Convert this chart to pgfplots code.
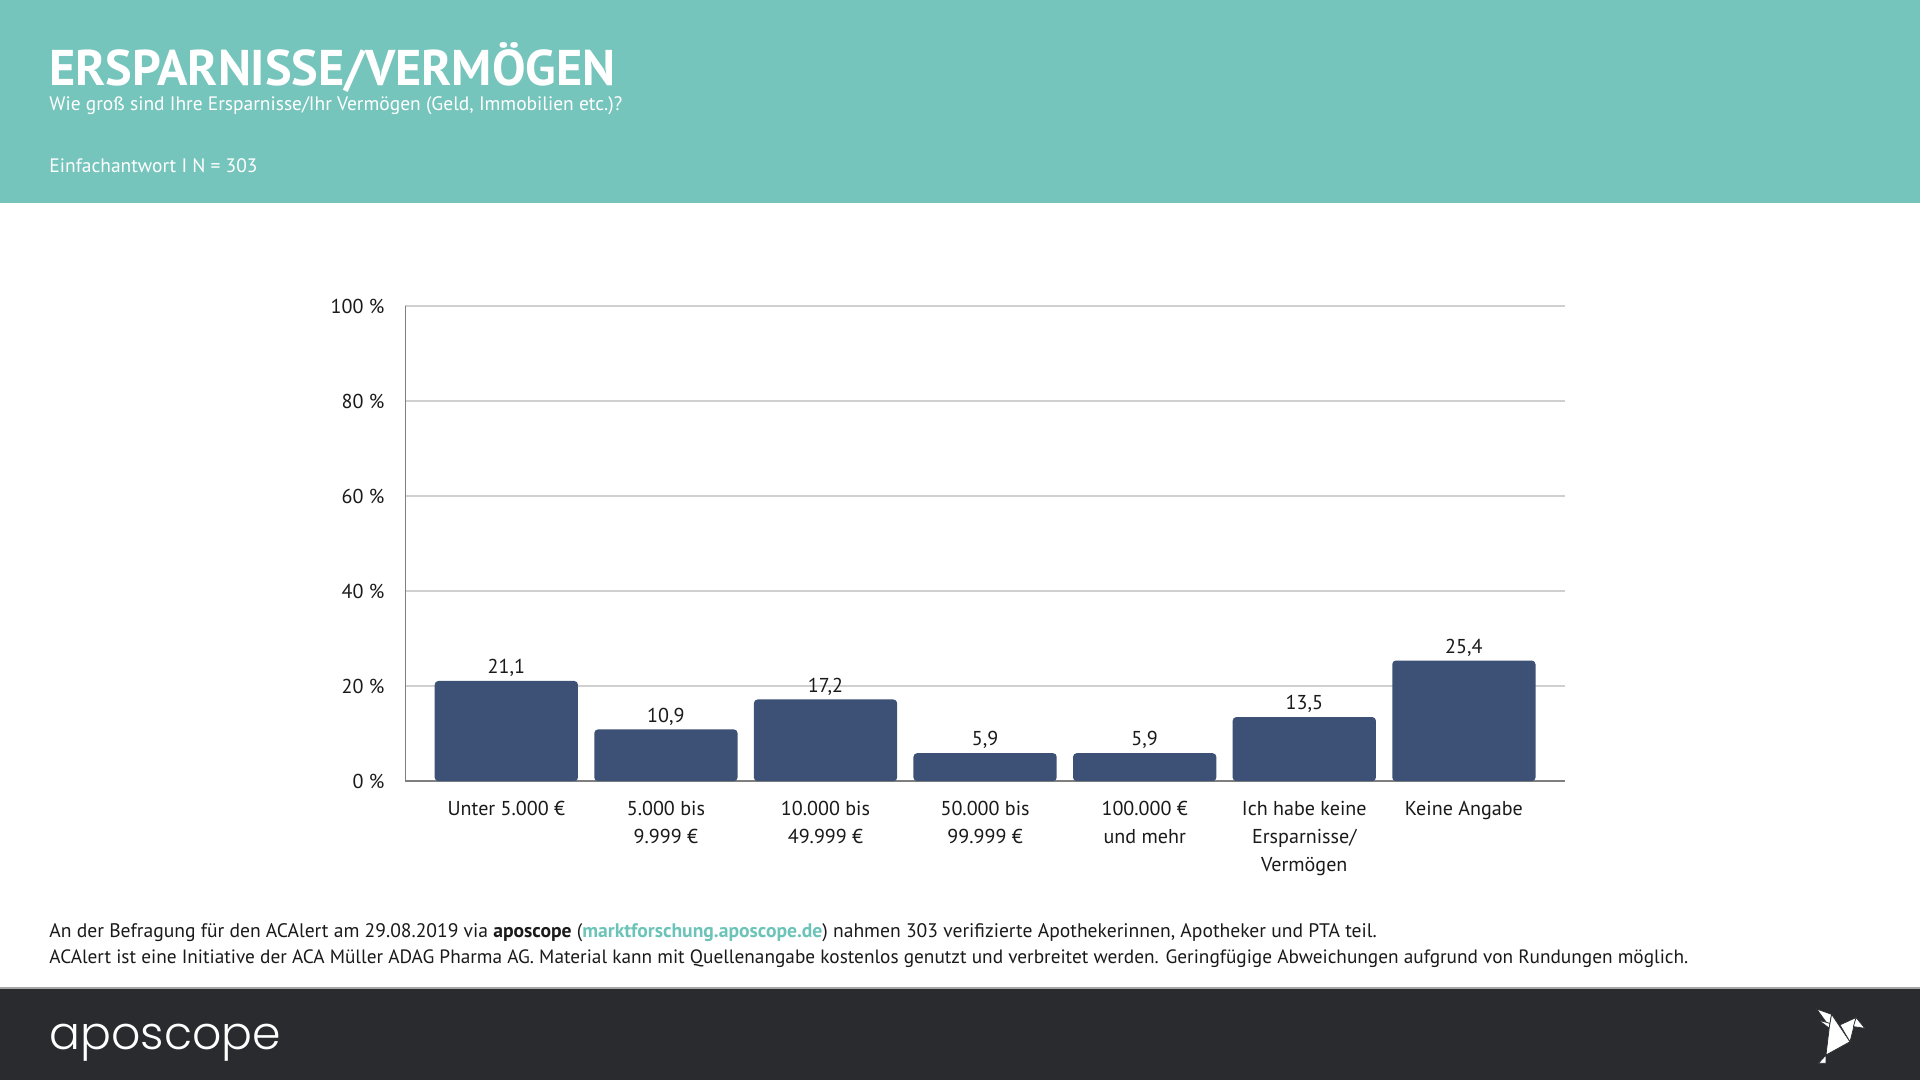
\documentclass[border=0pt]{standalone}
\usepackage{pgfplots}
\pgfplotsset{compat=1.18}
\usepackage{fontspec}
\setmainfont{PT Sans}
\newfontfamily\logofont{Poppins}[UprightFont=* Light]
\definecolor{headteal}{HTML}{76C5BC}
\definecolor{barblue}{HTML}{3D5176}
\definecolor{footdark}{HTML}{2A2B2F}
\definecolor{linkteal}{HTML}{6CC3B8}
\definecolor{gridgray}{HTML}{D0D0D0}
\definecolor{axisgray}{HTML}{7F7F7F}
\definecolor{txt}{HTML}{1A1A1A}

\begin{document}
\begin{tikzpicture}
\useasboundingbox (0,0) rectangle (784pt,441pt);
\fill[white] (0,0) rectangle (784pt,441pt);
\fill[headteal] (0,358pt) rectangle (784pt,441pt);
\fill[footdark] (0,0) rectangle (784pt,37.5pt);
\draw[gray!70, line width=0.6pt] (0,37.5pt) -- (784pt,37.5pt);

% header
\node[anchor=base west, inner sep=0, text=white, font=\fontsize{20.5}{22}\selectfont\bfseries] at (20pt,406pt) {ERSPARNISSE/VERMÖGEN};
\node[anchor=base west, inner sep=0, text=white, font=\fontsize{7.95}{9}\selectfont] at (20pt,396pt) {Wie groß sind Ihre Ersparnisse/Ihr Vermögen (Geld, Immobilien etc.)?};
\node[anchor=base west, inner sep=0, text=white, font=\fontsize{7.95}{9}\selectfont] at (20pt,370.5pt) {Einfachantwort I N = 303};

\begin{axis}[
  at={(165.5pt,122pt)}, anchor=south west,
  scale only axis, width=473.5pt, height=194pt,
  ybar, bar width=58.5pt,
  xmin=-0.633, xmax=6.633,
  ymin=0, ymax=100, ytick={0,20,...,100},
  xtick={0,...,6},
  xticklabels={Unter 5.000 €, {5.000 bis\\9.999 €}, {10.000 bis\\49.999 €}, {50.000 bis\\99.999 €}, {100.000 €\\und mehr}, {Ich habe keine\\Ersparnisse/\\Vermögen}, Keine Angabe},
  axis x line*=bottom, axis y line*=left,
  axis line style={axisgray, line width=0.6pt},
  major tick length=0pt,
  ymajorgrids, grid style={gridgray, line width=0.6pt},
  /pgf/number format/assume math mode=true,
  yticklabel={\pgfmathprintnumber{\tick}~\%},
  yticklabel style={font=\fontsize{8.2}{10}\selectfont, text=txt, xshift=-5pt},
  xticklabel style={font=\fontsize{8.2}{11.5}\selectfont, text=txt, align=center, anchor=north, yshift=-4.5pt},
  nodes near coords={\pgfmathprintnumber[fixed, fixed zerofill, precision=1, use comma]{\pgfplotspointmeta}},
  every node near coord/.append style={font=\fontsize{8.2}{10}\selectfont, text=txt, anchor=base, yshift=3pt},
]
\addplot[fill=barblue, draw=none, rounded corners=1.5pt] coordinates {(0,21.1) (1,10.9) (2,17.2) (3,5.9) (4,5.9) (5,13.5) (6,25.4)};
\end{axis}

% footnote
\node[anchor=base west, inner sep=0, text=txt, font=\fontsize{8}{10}\selectfont] at (20pt,58pt) {An der Befragung für den ACAlert am 29.08.2019 via \textbf{aposcope} (\textcolor{linkteal}{\textbf{marktforschung.aposcope.de}}) nahmen 303 verifizierte Apothekerinnen, Apotheker und PTA teil.};
\node[anchor=base west, inner sep=0, text=txt, font=\fontsize{7.88}{10}\selectfont] at (20pt,47.5pt) {ACAlert ist eine Initiative der ACA Müller ADAG Pharma AG. Material kann mit Quellenangabe kostenlos genutzt und verbreitet werden. Geringfügige Abweichungen aufgrund von Rundungen möglich.};

% footer logo
\node[anchor=base west, inner sep=0, text=white, font=\logofont\fontsize{18.7}{22}\selectfont] at (20pt,12.5pt) {aposcope};
% origami bird
\begin{scope}[fill=white, draw=footdark, line width=0.3pt, line join=round]
\filldraw (741.8pt,29.0pt) -- (747.9pt,26.8pt) -- (747.0pt,21.8pt) -- cycle;
\filldraw (742.5pt,24.5pt) -- (747.2pt,23.1pt) -- (747.0pt,21.1pt) -- cycle;
\filldraw (747.9pt,26.8pt) -- (755.4pt,15.6pt) -- (745.6pt,10.2pt) -- (747.0pt,21.8pt) -- cycle;
\filldraw (751.3pt,22.5pt) -- (757.9pt,25.5pt) -- (755.4pt,15.6pt) -- cycle;
\filldraw (757.9pt,25.5pt) -- (761.5pt,21.1pt) -- (756.8pt,21.8pt) -- cycle;
\filldraw (745.6pt,10.2pt) -- (742.5pt,6.8pt) -- (745.6pt,6.8pt) -- cycle;
\end{scope}
\end{tikzpicture}
\end{document}
